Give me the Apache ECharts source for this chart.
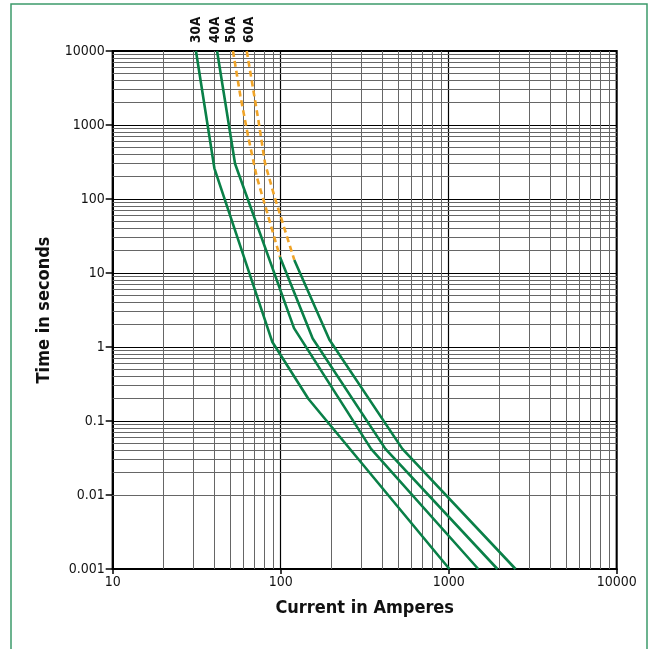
<!DOCTYPE html>
<html><head><meta charset="utf-8">
<script src="https://cdn.jsdelivr.net/npm/echarts@6/dist/echarts.min.js"></script>
<style>html,body{margin:0;padding:0;background:#fff}#c{width:655px;height:649px}</style>
</head><body><div id="c"></div>
<script>
// ---- data ----
const xTickLabels = ['10', '100', '1000', '10000'];
const yTickLabels = ['0.001', '0.01', '0.1', '1', '10', '100', '1000', '10000'];
const curveNames = ['30A', '40A', '50A', '60A'];
const xDecades = [10, 100, 1000];
const yDecades = [0.001, 0.01, 0.1, 1, 10, 100, 1000];
const minorSteps = [2, 3, 4, 5, 6, 7, 8, 9];

const curve30 = [[31.3, 10000], [40.3, 260], [89, 1.18], [146, 0.2], [1010, 0.001]];
const curve40 = [[41.8, 10000], [53.5, 300], [120, 1.8], [345, 0.042], [1500, 0.001]];
const curve50Dashed = [[52, 10000], [57.5, 2500], [64, 700], [72, 200], [84, 60], [99, 16.5]];
const curve50 = [[99, 16.5], [155, 1.3], [420, 0.042], [1950, 0.001]];
const curve60Dashed = [[62.8, 10000], [73.6, 1170], [80.7, 303], [92.5, 102], [120.5, 15]];
const curve60 = [[120.5, 15], [195, 1.25], [530, 0.042], [2500, 0.001]];

// ---- styles ----
const FONT = '"Liberation Sans Narrow","DejaVu Sans Condensed","Arial Narrow",sans-serif';
const GREEN = '#0a8048';
const ORANGE = '#f0a428';
const labelShiftX = [1, -2, -1, 3];

const xMinor = [], yMinor = [];
xDecades.forEach(d => minorSteps.forEach(m => xMinor.push({ xAxis: d * m })));
yDecades.forEach(d => minorSteps.forEach(m => yMinor.push({ yAxis: +(d * m).toPrecision(6) })));

function lineSeries(name, data, dashed) {
  return {
    name, type: 'line', data, symbol: 'none', silent: true, animation: false, z: 5,
    lineStyle: { color: dashed ? ORANGE : GREEN, width: 2.6, type: dashed ? [6, 4] : 'solid' }
  };
}

const chart = echarts.init(document.getElementById('c'), null, { renderer: 'canvas' });
const option = {
  backgroundColor: '#fff',
  animation: false,
  grid: { left: 112.7, right: 38.3, top: 51, bottom: 80, show: true, borderColor: '#000', borderWidth: 2, backgroundColor: 'transparent' },
  xAxis: {
    type: 'log', logBase: 10, min: 10, max: 10000,
    name: 'Current in Amperes', nameLocation: 'middle', nameGap: 30,
    nameTextStyle: { fontFamily: FONT, fontWeight: 'bold', fontSize: 18, color: '#111' },
    axisLine: { show: true, lineStyle: { color: '#000', width: 2 } },
    axisTick: { show: true, length: 5, lineStyle: { color: '#000', width: 1.5 } },
    axisLabel: { fontFamily: FONT, fontSize: 14, color: '#111', margin: 6,
      formatter: v => xTickLabels[Math.round(Math.log10(v)) - 1], showMinLabel: true, showMaxLabel: true },
    splitLine: { show: true, lineStyle: { color: '#000', width: 1.2 } }
  },
  yAxis: {
    type: 'log', logBase: 10, min: 0.001, max: 10000,
    name: 'Time in seconds', nameLocation: 'middle', nameGap: 58,
    nameTextStyle: { fontFamily: FONT, fontWeight: 'bold', fontSize: 18, color: '#111' },
    axisLine: { show: true, lineStyle: { color: '#000', width: 2 } },
    axisTick: { show: true, length: 7, lineStyle: { color: '#000', width: 1.5 } },
    axisLabel: { fontFamily: FONT, fontSize: 14, color: '#111', margin: 8,
      formatter: v => yTickLabels[Math.round(Math.log10(v)) + 3], showMinLabel: true, showMaxLabel: true },
    splitLine: { show: true, lineStyle: { color: '#000', width: 1.2 } }
  },
  series: [
    {
      type: 'line', data: [[10, 0.001]], symbol: 'none', silent: true, z: 1,
      lineStyle: { width: 0 },
      markLine: {
        silent: true, symbol: ['none', 'none'], label: { show: false }, animation: false,
        lineStyle: { color: '#666', width: 1, type: 'solid' },
        emphasis: { disabled: true },
        data: xMinor.concat(yMinor)
      }
    },
    lineSeries('30A', curve30, false),
    lineSeries('40A', curve40, false),
    lineSeries('50A', curve50Dashed, true),
    lineSeries('50A', curve50, false),
    lineSeries('60A', curve60Dashed, true),
    lineSeries('60A', curve60, false)
  ],
  graphic: [
    { type: 'rect', silent: true, z: 100, shape: { x: 11, y: 4, width: 636, height: 700 },
      style: { fill: 'none', stroke: '#3d9a6b', lineWidth: 1.5 } }
  ]
};
chart.setOption(option);

// curve labels at the top end of each curve
const topPoints = [curve30[0], curve40[0], curve50Dashed[0], curve60Dashed[0]];
const labelGraphics = topPoints.map((p, i) => {
  const px = chart.convertToPixel({ gridIndex: 0 }, p);
  return {
    type: 'text', silent: true, z: 100, x: px[0] + labelShiftX[i], y: px[1] - 8, rotation: Math.PI / 2,
    style: { text: curveNames[i], fontFamily: FONT, fontWeight: 'bold', fontSize: 13.5, fill: '#111',
      align: 'left', verticalAlign: 'middle' }
  };
});
chart.setOption({ graphic: option.graphic.concat(labelGraphics) });
</script>
</body></html>
